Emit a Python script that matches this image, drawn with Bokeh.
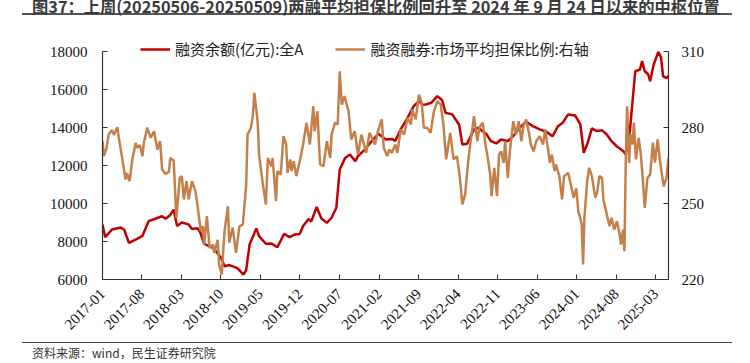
import pandas as pd
from bokeh.plotting import figure
from bokeh.layouts import column
from bokeh.models import (Range1d, LinearAxis, FixedTicker, DatetimeTickFormatter,
                          Legend, LegendItem, ColumnDataSource, Div)
from bokeh.embed import file_html
from bokeh.resources import INLINE

# ---- data (decimal years) ----
red_t = [2017.00, 2017.04, 2017.14, 2017.27, 2017.32, 2017.39, 2017.51, 2017.59, 2017.68, 2017.76,
         2017.88, 2017.93, 2018.00, 2018.05, 2018.10, 2018.17, 2018.27, 2018.32, 2018.40, 2018.44,
         2018.50, 2018.63, 2018.75, 2018.80, 2018.87, 2018.99, 2019.08, 2019.12, 2019.17, 2019.27,
         2019.31, 2019.41, 2019.49, 2019.58, 2019.68, 2019.76, 2019.84, 2019.91, 2019.96, 2020.04,
         2020.08, 2020.16, 2020.23, 2020.31, 2020.38, 2020.45, 2020.50, 2020.58, 2020.65, 2020.73,
         2020.77, 2020.87, 2020.97, 2021.07, 2021.18, 2021.27, 2021.32, 2021.40, 2021.50, 2021.59,
         2021.67, 2021.72, 2021.77, 2021.85, 2021.94, 2022.01, 2022.06, 2022.16, 2022.26, 2022.31,
         2022.38, 2022.48, 2022.54, 2022.66, 2022.73, 2022.81, 2022.88, 2022.98, 2023.08, 2023.15,
         2023.25, 2023.35, 2023.45, 2023.55, 2023.64, 2023.72, 2023.79, 2023.87, 2023.94, 2023.97,
         2024.05, 2024.10, 2024.15, 2024.22, 2024.29, 2024.37, 2024.44, 2024.51, 2024.59, 2024.69,
         2024.72, 2024.78, 2024.86, 2024.93, 2024.96, 2025.00, 2025.05, 2025.08, 2025.13, 2025.20,
         2025.24, 2025.27, 2025.32, 2025.35]
red_v = [8900, 8230, 8630, 8740, 8620, 7930, 8140, 8300, 9070, 9170,
         9330, 9200, 9400, 9680, 8810, 9000, 8900, 8660, 8700, 8500,
         7880, 7670, 7140, 6700, 6760, 6600, 6260, 6500, 7840, 8690,
         8280, 7880, 7900, 7700, 8400, 8230, 8370, 8400, 8810, 9190,
         9050, 9820, 9210, 8980, 9250, 9780, 11790, 12400, 12580, 12230,
         12500, 12840, 13280, 13670, 13370, 13400, 13300, 13900, 14510, 15120,
         15390, 15200, 15210, 15300, 15650, 15450, 14780, 14690, 14160, 13100,
         13150, 13900, 13980, 13670, 13280, 13160, 13370, 13280, 13630, 13980,
         14300, 14070, 13900, 13770, 13540, 14070, 14250, 14690, 14640, 14650,
         14160, 12670, 13100, 13950, 13810, 13850, 13630, 13280, 13000, 12740,
         12580, 13800, 16960, 17050, 17490, 16960, 16800, 16440, 17290, 17980,
         17700, 16700, 16600, 16720]

brown_t = [2017.00, 2017.02, 2017.06, 2017.09, 2017.14, 2017.17, 2017.22, 2017.24, 2017.29, 2017.34,
           2017.36, 2017.40, 2017.44, 2017.49, 2017.51, 2017.55, 2017.59, 2017.61, 2017.66, 2017.71,
           2017.76, 2017.81, 2017.85, 2017.88, 2017.93, 2017.98, 2018.00, 2018.05, 2018.09, 2018.14,
           2018.17, 2018.20, 2018.24, 2018.27, 2018.32, 2018.37, 2018.40, 2018.45, 2018.48, 2018.50,
           2018.54, 2018.58, 2018.63, 2018.65, 2018.70, 2018.72, 2018.76, 2018.80, 2018.85, 2018.87,
           2018.92, 2018.97, 2019.02, 2019.07, 2019.12, 2019.14, 2019.19, 2019.22, 2019.24, 2019.27,
           2019.29, 2019.31, 2019.36, 2019.41, 2019.44, 2019.49, 2019.51, 2019.56, 2019.58, 2019.63,
           2019.67, 2019.71, 2019.73, 2019.77, 2019.79, 2019.82, 2019.86, 2019.91, 2019.96, 2020.01,
           2020.06, 2020.11, 2020.13, 2020.17, 2020.21, 2020.26, 2020.31, 2020.36, 2020.38, 2020.43,
           2020.47, 2020.50, 2020.53, 2020.57, 2020.63, 2020.67, 2020.72, 2020.77, 2020.82, 2020.89,
           2020.94, 2021.02, 2021.07, 2021.12, 2021.15, 2021.20, 2021.23, 2021.27, 2021.32, 2021.35,
           2021.40, 2021.45, 2021.50, 2021.55, 2021.57, 2021.62, 2021.67, 2021.71, 2021.74, 2021.79,
           2021.84, 2021.89, 2021.94, 2021.99, 2022.03, 2022.07, 2022.13, 2022.18, 2022.23, 2022.27,
           2022.31, 2022.35, 2022.40, 2022.48, 2022.53, 2022.56, 2022.61, 2022.65, 2022.68, 2022.72,
           2022.74, 2022.78, 2022.82, 2022.85, 2022.88, 2022.92, 2022.94, 2022.98, 2023.01, 2023.06,
           2023.10, 2023.14, 2023.18, 2023.21, 2023.25, 2023.29, 2023.32, 2023.36, 2023.40, 2023.45,
           2023.50, 2023.53, 2023.57, 2023.60, 2023.63, 2023.67, 2023.69, 2023.74, 2023.78, 2023.81,
           2023.87, 2023.91, 2023.95, 2023.99, 2024.02, 2024.05, 2024.07, 2024.09, 2024.11, 2024.15,
           2024.18, 2024.22, 2024.27, 2024.30, 2024.33, 2024.37, 2024.39, 2024.44, 2024.48, 2024.51,
           2024.55, 2024.59, 2024.63, 2024.65, 2024.68, 2024.70, 2024.72, 2024.74, 2024.77, 2024.79,
           2024.82, 2024.84, 2024.87, 2024.91, 2024.94, 2024.97, 2025.00, 2025.04, 2025.08, 2025.12,
           2025.15, 2025.19, 2025.22, 2025.25, 2025.28, 2025.32, 2025.35]
brown_v = [274.6, 268.7, 272.0, 277.2, 279.0, 277.0, 280.1, 276.0, 268.0, 259.5,
           262.0, 258.8, 267.4, 274.0, 272.0, 273.0, 268.7, 274.0, 279.9, 276.0,
           278.5, 271.3, 274.6, 263.4, 261.7, 262.5, 268.0, 267.0, 244.4, 260.1,
           260.8, 251.6, 258.8, 251.6, 258.8, 255.0, 249.6, 239.1, 241.0, 233.8,
           245.0, 232.5, 233.8, 230.5, 235.7, 225.9, 222.0, 239.1, 248.9, 234.5,
           240.5, 230.5, 241.0, 241.7, 257.5, 277.2, 279.9, 285.1, 293.7, 287.0,
           281.9, 269.3, 258.8, 249.6, 268.0, 264.7, 268.0, 250.9, 262.8, 261.4,
           276.6, 273.3, 262.1, 267.4, 262.8, 266.7, 260.8, 266.7, 273.3, 281.9,
           273.3, 288.4, 278.5, 286.4, 265.4, 264.7, 274.6, 268.0, 277.2, 281.9,
           281.2, 302.2, 289.0, 292.4, 286.4, 275.3, 278.5, 269.3, 277.2, 270.0,
           277.9, 273.3, 279.2, 283.2, 271.9, 268.7, 271.3, 270.0, 273.3, 270.0,
           279.2, 277.2, 283.8, 281.2, 287.1, 283.2, 293.0, 289.7, 279.9, 279.9,
           277.9, 286.4, 290.4, 289.0, 281.2, 267.4, 277.9, 267.4, 268.7, 260.8,
           249.6, 253.6, 268.0, 284.5, 274.6, 280.0, 281.9, 273.3, 268.7, 261.4,
           252.9, 264.1, 252.9, 269.3, 270.6, 266.0, 274.6, 260.1, 270.6, 282.5,
           277.2, 282.5, 274.6, 280.5, 283.2, 278.0, 273.3, 270.6, 274.6, 276.6,
           273.3, 279.2, 272.0, 266.1, 269.3, 262.8, 265.4, 260.8, 251.6, 260.8,
           262.1, 257.5, 252.3, 256.0, 247.0, 244.0, 241.7, 225.9, 244.4, 258.8,
           264.1, 260.8, 252.3, 254.5, 260.8, 260.1, 251.6, 245.7, 241.0, 244.4,
           239.7, 243.0, 237.8, 233.8, 239.7, 231.2, 266.7, 288.4, 266.0, 277.2,
           273.3, 281.9, 267.4, 275.9, 270.0, 260.1, 248.3, 260.1, 261.4, 274.0,
           266.1, 275.3, 268.0, 262.1, 256.8, 260.0, 268.0]

left_ticks = [6000, 8000, 10000, 12000, 14000, 16000, 18000]
right_ticks = [220, 250, 280, 310]
tick_months = pd.date_range("2017-01-01", "2025-03-01", freq="7MS")

title_text = "图37：上周(20250506-20250509)两融平均担保比例回升至 2024 年 9 月 24 日以来的中枢位置"
source_text = "资料来源：wind，民生证券研究院"
red_label = "融资余额(亿元):全A"
brown_label = "融资融券:市场平均担保比例:右轴"

RED = "#C00000"
BROWN = "#C4804A"


def to_dt(ts):
    base = pd.Timestamp("2017-01-01")
    return [base + pd.Timedelta(days=(t - 2017.0) * 365.25) for t in ts]


red_src = ColumnDataSource(dict(x=to_dt(red_t), y=red_v))
brown_src = ColumnDataSource(dict(x=to_dt(brown_t), y=brown_v))

# frame extends 17px above the 18000 / 310 tick so the legend fits inside it;
# axis bounds keep the axis lines to the labelled span
EXTRA_PX = 17
left_top = left_ticks[-1] + EXTRA_PX * (left_ticks[-1] - left_ticks[0]) / 228.0
right_top = right_ticks[-1] + EXTRA_PX * (right_ticks[-1] - right_ticks[0]) / 228.0

p = figure(width=750, height=327, x_axis_type="datetime",
           x_range=Range1d(pd.Timestamp("2017-01-01"), pd.Timestamp("2025-05-09")),
           y_range=Range1d(left_ticks[0], left_top),
           output_backend="svg", toolbar_location=None,
           min_border_left=102, min_border_right=82, min_border_top=19, min_border_bottom=63,
           margin=(0, 0, 0, 0))
p.title.visible = False
p.outline_line_color = None
p.xgrid.visible = False
p.ygrid.visible = False
p.background_fill_color = "white"
p.border_fill_color = "white"

p.extra_y_ranges = {"r": Range1d(right_ticks[0], right_top)}

r_red = p.line("x", "y", source=red_src, line_color=RED, line_width=2.5)
r_brown = p.line("x", "y", source=brown_src, line_color=BROWN, line_width=2.5, y_range_name="r")

raxis = LinearAxis(y_range_name="r")
p.add_layout(raxis, "right")

for ax in [p.xaxis[0], p.yaxis[0], raxis]:
    ax.axis_line_color = "#333333"
    ax.axis_line_width = 1.2
    ax.major_tick_line_color = "#333333"
    ax.major_tick_in = 5
    ax.major_tick_out = 0
    ax.minor_tick_in = 0
    ax.minor_tick_out = 0
    ax.major_label_text_font = "Liberation Serif"
    ax.major_label_text_font_size = "15px"
    ax.major_label_text_color = "#111111"
    ax.major_label_standoff = 12

p.yaxis[0].ticker = FixedTicker(ticks=left_ticks)
p.yaxis[0].bounds = (left_ticks[0], left_ticks[-1])
p.yaxis[0].major_label_standoff = 15
raxis.ticker = FixedTicker(ticks=right_ticks)
raxis.bounds = (right_ticks[0], right_ticks[-1])
raxis.major_label_standoff = 13

xa = p.xaxis[0]
xa.ticker = FixedTicker(ticks=[t.value // 10**6 for t in tick_months])
fmt = "%Y-%m"
xa.formatter = DatetimeTickFormatter(years=fmt, months=fmt, days=fmt, hours=fmt, minutes=fmt,
                                     seconds=fmt, milliseconds=fmt, microseconds=fmt)
xa.major_label_orientation = 0.785398
xa.major_label_standoff = 12
xa.major_label_text_font_size = "15px"

legend = Legend(items=[LegendItem(label=red_label, renderers=[r_red]),
                       LegendItem(label=brown_label, renderers=[r_brown])],
                orientation="horizontal", location=(38, 220),
                glyph_width=30, glyph_height=20, label_height=20, label_standoff=5,
                spacing=32, padding=0, margin=0,
                border_line_alpha=0, background_fill_alpha=0,
                label_text_font="Noto Sans CJK SC", label_text_font_size="15px",
                label_text_color="#222222")
p.add_layout(legend)

title_div = Div(
    text=('<div style="box-sizing:border-box;width:710px;height:15px;margin-left:22px;'
          'padding-left:10px;border-bottom:2px solid #555555;white-space:nowrap;'
          "font-family:'Noto Sans CJK SC';font-weight:bold;font-size:16.3px;line-height:13px;"
          'color:#3a3a3a;">' + title_text + '</div>'),
    width=750, height=15, margin=(0, 0, 0, 0))

src_div = Div(
    text=('<div style="box-sizing:border-box;width:710px;height:21px;margin-left:22px;'
          'padding-left:10px;padding-top:2px;border-top:1px solid #444444;white-space:nowrap;'
          "font-family:'Noto Sans CJK SC';font-size:12px;line-height:15px;"
          'color:#333333;">' + source_text + '</div>'),
    width=750, height=21, margin=(0, 0, 0, 0))

layout = column(title_div, p, src_div, spacing=0, margin=(0, 0, 0, 0))

open("out.html", "w").write(file_html(layout, INLINE))
